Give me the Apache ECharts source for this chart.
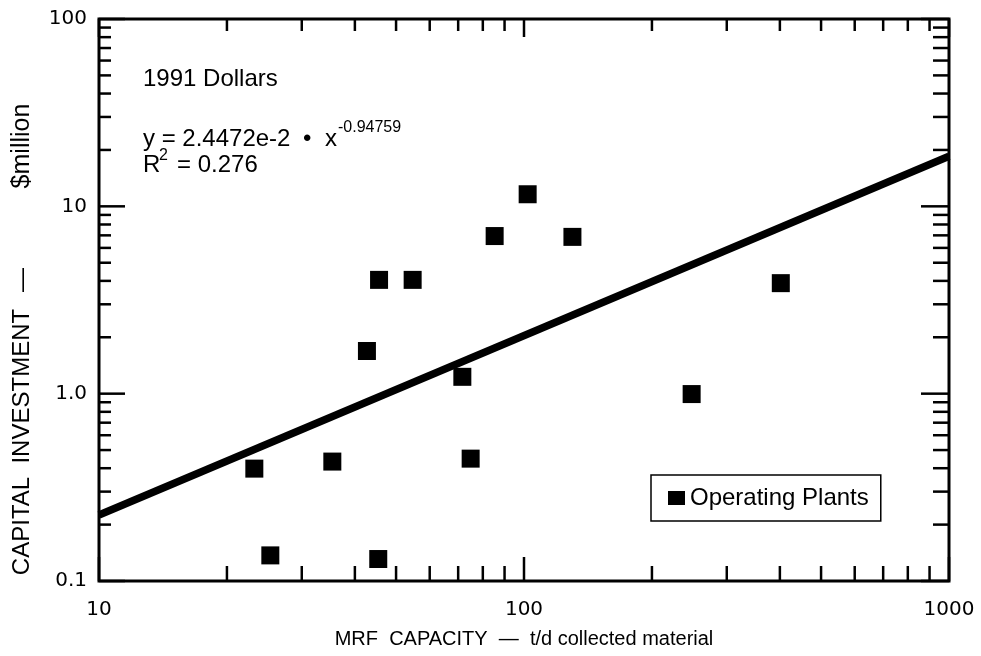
<!DOCTYPE html>
<html>
<head>
<meta charset="utf-8">
<script src="https://cdn.jsdelivr.net/npm/echarts@6/dist/echarts.min.js"></script>
<style>
html,body{margin:0;padding:0;background:#fff;}
#chart{width:981px;height:656px;}
</style>
</head>
<body>
<div id="chart"></div>
<script>
// ---- data ----
const plantCapacity = [23.2, 25.3, 35.4, 45.4, 42.7, 45.6, 54.7, 71.6, 74.9, 85.3, 102, 130, 248, 402];
const plantInvestment = [0.398, 0.137, 0.434, 0.131, 1.69, 4.05, 4.05, 1.23, 0.45, 6.94, 11.6, 6.87, 0.995, 3.89];
const trendX = [10, 1000];
const trendY = [0.225, 18.5];
const xTickValues = [10, 100, 1000];
const xTickLabels = ['10', '100', '1000'];
const yTickValues = [0.1, 1, 10, 100];
const yTickLabels = ['0.1', '1.0', '10', '100'];
const xMinorTicks = [20, 30, 40, 50, 60, 70, 80, 90, 200, 300, 400, 500, 600, 700, 800, 900];
const yMinorTicks = [0.2, 0.3, 0.4, 0.5, 0.6, 0.7, 0.8, 0.9, 2, 3, 4, 5, 6, 7, 8, 9, 20, 30, 40, 50, 60, 70, 80, 90];
const seriesName = 'Operating Plants';
const xTitle = 'MRF  CAPACITY  \u2014  t/d collected material';

const X_MIN = 10, X_MAX = 1000, Y_MIN = 0.1, Y_MAX = 100;

function lookup(vals, labels, v) {
  for (let i = 0; i < vals.length; i++) {
    if (Math.abs(Math.log10(vals[i]) - Math.log10(v)) < 1e-6) return labels[i];
  }
  return '';
}

const chart = echarts.init(document.getElementById('chart'), null, {renderer: 'canvas'});

function xTickRender(lenBottom, lenTop, width) {
  return function (params, api) {
    const v = api.value(0);
    const b = api.coord([v, Y_MIN]);
    const t = api.coord([v, Y_MAX]);
    const st = {stroke: '#000', lineWidth: width};
    return {type: 'group', children: [
      {type: 'line', shape: {x1: b[0], y1: b[1], x2: b[0], y2: b[1] - lenBottom}, style: st},
      {type: 'line', shape: {x1: t[0], y1: t[1], x2: t[0], y2: t[1] + lenTop}, style: st}
    ]};
  };
}
function yTickRender(lenLeft, lenRight, width) {
  return function (params, api) {
    const v = api.value(1);
    const l = api.coord([X_MIN, v]);
    const r = api.coord([X_MAX, v]);
    const st = {stroke: '#000', lineWidth: width};
    return {type: 'group', children: [
      {type: 'line', shape: {x1: l[0], y1: l[1], x2: l[0] + lenLeft, y2: l[1]}, style: st},
      {type: 'line', shape: {x1: r[0], y1: r[1], x2: r[0] - lenRight, y2: r[1]}, style: st}
    ]};
  };
}

const txtFont = '"Liberation Sans", Arial, Helvetica, sans-serif';
const numFont = '"DejaVu Sans", Verdana, sans-serif';

const option = {
  backgroundColor: '#fff',
  animation: false,
  grid: {left: 99, right: 32, top: 19, bottom: 75, show: true, borderColor: '#000', borderWidth: 3, backgroundColor: 'transparent'},
  xAxis: {
    type: 'log', logBase: 10, min: X_MIN, max: X_MAX,
    axisLine: {show: false}, axisTick: {show: false}, splitLine: {show: false}, minorTick: {show: false},
    axisLabel: {color: '#000', fontFamily: numFont, fontSize: 20, margin: 19,
      formatter: v => lookup(xTickValues, xTickLabels, v)},
    name: xTitle, nameLocation: 'middle', nameGap: 48,
    nameTextStyle: {color: '#000', fontFamily: txtFont, fontSize: 20}
  },
  yAxis: {
    type: 'log', logBase: 10, min: Y_MIN, max: Y_MAX,
    axisLine: {show: false}, axisTick: {show: false}, splitLine: {show: false}, minorTick: {show: false},
    axisLabel: {color: '#000', fontFamily: numFont, fontSize: 20, margin: 12,
      formatter: v => lookup(yTickValues, yTickLabels, v)}
  },
  legend: {
    data: [{name: seriesName, icon: 'rect'}],
    left: 651, top: 475,
    padding: [11, 12, 11, 17],
    itemWidth: 17, itemHeight: 14,
    borderColor: '#000', borderWidth: 1.5, borderRadius: 0,
    backgroundColor: '#fff',
    textStyle: {color: '#000', fontFamily: txtFont, fontSize: 24}
  },
  graphic: [
    {type: 'text', x: 22, y: 442, rotation: Math.PI / 2,
      style: {text: 'CAPITAL  INVESTMENT', fill: '#000', font: '24px ' + txtFont, align: 'center', verticalAlign: 'middle'}},
    {type: 'text', x: 22, y: 280, rotation: Math.PI / 2,
      style: {text: '\u2014', fill: '#000', font: '24px ' + txtFont, align: 'center', verticalAlign: 'middle'}},
    {type: 'text', x: 22, y: 146, rotation: Math.PI / 2,
      style: {text: '$million', fill: '#000', font: '25px ' + txtFont, align: 'center', verticalAlign: 'middle'}},
    {type: 'text', x: 143, y: 79,
      style: {text: '1991 Dollars', fill: '#000', font: '24px ' + txtFont, align: 'left', verticalAlign: 'middle'}},
    {type: 'text', x: 143, y: 139,
      style: {text: 'y = 2.4472e-2', fill: '#000', font: '24px ' + txtFont, align: 'left', verticalAlign: 'middle'}},
    {type: 'text', x: 303, y: 139,
      style: {text: '\u2022', fill: '#000', font: '24px ' + txtFont, align: 'left', verticalAlign: 'middle'}},
    {type: 'text', x: 325, y: 139,
      style: {text: 'x', fill: '#000', font: '24px ' + txtFont, align: 'left', verticalAlign: 'middle'}},
    {type: 'text', x: 338, y: 128,
      style: {text: '-0.94759', fill: '#000', font: '16px ' + txtFont, align: 'left', verticalAlign: 'middle'}},
    {type: 'text', x: 143, y: 165,
      style: {text: 'R', fill: '#000', font: '24px ' + txtFont, align: 'left', verticalAlign: 'middle'}},
    {type: 'text', x: 159, y: 156,
      style: {text: '2', fill: '#000', font: '16px ' + txtFont, align: 'left', verticalAlign: 'middle'}},
    {type: 'text', x: 177, y: 165,
      style: {text: '= 0.276', fill: '#000', font: '24px ' + txtFont, align: 'left', verticalAlign: 'middle'}}
  ],
  series: [
    {type: 'custom', name: 'xmajor', silent: true, clip: false, renderItem: xTickRender(24, 18, 2.5),
      data: xTickValues.map(v => [v, Y_MIN]), z: 5},
    {type: 'custom', name: 'xminor', silent: true, clip: false, renderItem: xTickRender(15, 12, 2.5),
      data: xMinorTicks.map(v => [v, Y_MIN]), z: 5},
    {type: 'custom', name: 'ymajor', silent: true, clip: false, renderItem: yTickRender(26, 28, 2.5),
      data: yTickValues.map(v => [X_MIN, v]), z: 5},
    {type: 'custom', name: 'yminor', silent: true, clip: false, renderItem: yTickRender(12, 16, 2.5),
      data: yMinorTicks.map(v => [X_MIN, v]), z: 5},
    {type: 'line', name: 'trend', data: trendX.map((x, i) => [x, trendY[i]]),
      showSymbol: false, symbol: 'none', silent: true,
      lineStyle: {color: '#000', width: 7.5}, z: 3},
    {type: 'scatter', name: seriesName, data: plantCapacity.map((x, i) => [x, plantInvestment[i]]),
      symbol: 'rect', symbolSize: 18, itemStyle: {color: '#000', opacity: 1}, z: 4}
  ]
};
chart.setOption(option);
</script>
</body>
</html>
